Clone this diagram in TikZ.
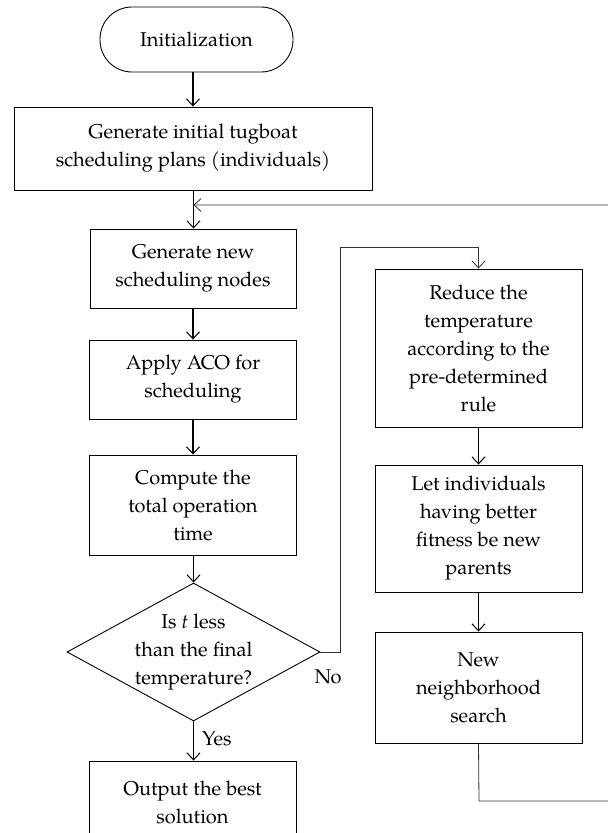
\documentclass[tikz,border=0pt]{standalone}
\usepackage{fontspec}
\setmainfont{TeX Gyre Pagella}
\usetikzlibrary{arrows.meta,shapes.geometric}
\begin{document}
\begin{tikzpicture}[x=1pt,y=-1pt,
  txt/.style={font=\fontsize{20}{28}\selectfont, align=center},
  box/.style={draw, line width=0.9pt, rectangle, inner sep=0pt, txt},
  term/.style={draw, line width=0.9pt, rectangle, rounded corners=32pt, inner sep=0pt, txt},
  dia/.style={draw, line width=0.9pt, diamond, inner sep=0pt},
  flow/.style={line width=1.2pt, -{Straight Barb[length=7pt,width=13pt,line width=1pt]}},
  back/.style={line width=0.8pt, draw=black!80},
  lbl/.style={font=\fontsize{20}{24}\selectfont, inner sep=0pt}
]
\useasboundingbox (0,0) rectangle (608,833);
\clip (0,0) rectangle (608,833);
% left column
\node[term, minimum width=193pt, minimum height=65pt] (init) at (196.5,39.5) {Initialization};
\node[box, minimum width=358pt, minimum height=83pt] (gen0) at (193,148.5) {Generate initial tugboat\\scheduling plans (individuals)};
\node[box, minimum width=206pt, minimum height=79pt] (gennew) at (193,268.5) {Generate new\\scheduling nodes};
\node[box, minimum width=207pt, minimum height=79pt] (aco) at (193,379.5) {Apply ACO for\\scheduling};
\node[box, minimum width=207pt, minimum height=100pt] (comp) at (193,505) {Compute the\\total operation\\time};
\node[dia, minimum width=253pt, minimum height=138pt] (dec) at (193.5,652) {};
\node[txt, inner sep=0pt] (dectext) at (193.5,652) {Is \textit{t} less\\than the final\\temperature?};
\node[box, minimum width=207pt, minimum height=82pt] (out) at (192.5,802) {Output the best\\solution};
% right column
\node[box, minimum width=207pt, minimum height=158pt] (red) at (478.5,348) {Reduce the\\temperature\\according to the\\pre-determined\\rule};
\node[box, minimum width=207pt, minimum height=127pt] (let) at (478.5,528.5) {Let individuals\\having better\\fitness be new\\parents};
\node[box, minimum width=207pt, minimum height=111pt] (new) at (478.5,687.5) {New\\neighborhood\\search};
% coordinates
\coordinate (merge) at (193.5,205);
\coordinate (nob) at (340,652);
\coordinate (not) at (340,247);
\coordinate (fb1) at (479,801);
\coordinate (fb2) at (620,801);
\coordinate (fb3) at (620,205);
% connectors
\draw[flow] (init.south -| gen0.north) -- (gen0.north);
\draw[flow] (gen0.south -| merge) -- (merge) -- (gennew.north -| merge);
\draw[flow] (gennew) -- (aco);
\draw[flow] (aco) -- (comp);
\draw[flow] (comp.south -| dec.north) -- (dec.north);
\draw[flow] (dec.south) -- (dec.south |- out.north) node[lbl, pos=0.45, right=8pt] (yes) {Yes};
\draw[back, -{Straight Barb[length=7pt,width=13pt,line width=0.8pt]}] (dec.east) -- (nob) -- (not) -- (not -| red.north) -- (red.north);
\node[lbl] (no) at (328,677) {No};
\draw[flow] (red) -- (let);
\draw[flow] (let) -- (new);
\draw[back, -{Straight Barb[length=7pt,width=13pt,line width=0.8pt]}] (new.south) -- (fb1) -- (fb2) -- (fb3) -- (merge);
\end{tikzpicture}
\end{document}
